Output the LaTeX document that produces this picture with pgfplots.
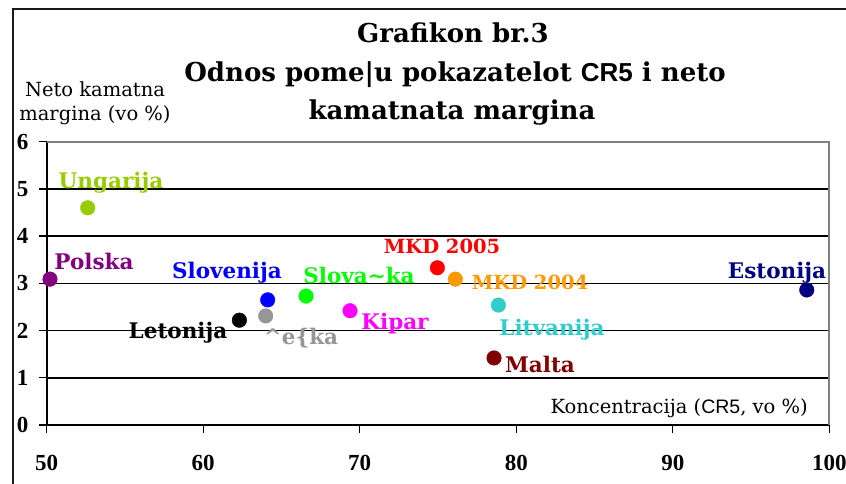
\documentclass[border=0pt]{standalone}
\usepackage{pgfplots}
\pgfplotsset{compat=1.18}
\usepackage{fontspec}
\setmainfont{DejaVu Serif}
\newfontfamily\tickfont{Liberation Serif}
\newfontfamily\sansf{Liberation Sans}
\definecolor{cUng}{HTML}{99CC00}
\definecolor{cPol}{HTML}{800080}
\definecolor{cSlo}{HTML}{0000FF}
\definecolor{cSlk}{HTML}{00FF00}
\definecolor{cLet}{HTML}{000000}
\definecolor{cCes}{HTML}{969696}
\definecolor{cKip}{HTML}{FF00FF}
\definecolor{cMK5}{HTML}{FF0000}
\definecolor{cMK4}{HTML}{FF9900}
\definecolor{cLit}{HTML}{33CCCC}
\definecolor{cMal}{HTML}{800000}
\definecolor{cEst}{HTML}{000080}
\begin{document}
\begin{tikzpicture}[x=1pt,y=1pt]
\useasboundingbox (0,0) rectangle (846,483);
\draw[line width=2pt,black!90] (13,-20) -- (13,474) -- (880,474);
\begin{axis}[
  at={(46.7pt,58pt)}, anchor=south west,
  width=782.6pt, height=283.3pt, scale only axis,
  xmin=50, xmax=100, ymin=0, ymax=6,
  xtick={50,60,...,100}, ytick={0,1,...,6},
  axis lines=left, axis line style={-, line width=1.8pt, black},
  tick align=outside, major tick length=8pt,
  tick style={black, line width=1.4pt},
  ymajorgrids, grid style={black, line width=1.6pt},
  clip=false,
  /pgf/number format/assume math mode=true,
  xticklabel style={font=\tickfont\bfseries\fontsize{23}{23}\selectfont, anchor=center, yshift=-30pt},
  yticklabel style={font=\tickfont\bfseries\fontsize{23}{23}\selectfont, anchor=center, xshift=-16pt},
  every axis plot/.append style={only marks, mark=*, mark size=7.3pt},
]
\draw[color=black!50, line width=1.8pt] (axis cs:50,6) -- (axis cs:100,6) -- (axis cs:100,0);
\addplot[cPol, mark options={fill=cPol, draw=cPol}] coordinates {(50.21,3.09)};
\addplot[cUng, mark options={fill=cUng, draw=cUng}] coordinates {(52.62,4.60)};
\addplot[cSlo, mark options={fill=cSlo, draw=cSlo}] coordinates {(64.12,2.65)};
\addplot[cLet, mark options={fill=cLet, draw=cLet}] coordinates {(62.31,2.22)};
\addplot[cCes, mark options={fill=cCes, draw=cCes}] coordinates {(63.99,2.31)};
\addplot[cSlk, mark options={fill=cSlk, draw=cSlk}] coordinates {(66.57,2.73)};
\addplot[cKip, mark options={fill=cKip, draw=cKip}] coordinates {(69.38,2.42)};
\addplot[cMK5, mark options={fill=cMK5, draw=cMK5}] coordinates {(74.96,3.33)};
\addplot[cMK4, mark options={fill=cMK4, draw=cMK4}] coordinates {(76.11,3.09)};
\addplot[cLit, mark options={fill=cLit, draw=cLit}] coordinates {(78.86,2.54)};
\addplot[cMal, mark options={fill=cMal, draw=cMal}] coordinates {(78.58,1.42)};
\addplot[cEst, mark options={fill=cEst, draw=cEst}] coordinates {(98.56,2.86)};
\end{axis}
% title
\begin{scope}[every node/.style={inner sep=0pt, font=\bfseries\fontsize{26}{26}\selectfont}]
\node[anchor=base] at (453,440) {Grafikon br.3};
\node[anchor=base] at (455,401) {Odnos pome\textbar u pokazatelot {\sansf CR5} i neto};
\node[anchor=base] at (452,363) {kamatnata margina};
\end{scope}
% axis titles
\begin{scope}[every node/.style={inner sep=0pt, font=\fontsize{19.5}{19.5}\selectfont}]
\node[anchor=base] at (95,386) {Neto kamatna};
\node[anchor=base] at (95,362) {margina (vo \%)};
\node[anchor=base east] at (808,70) {Koncentracija ({\sansf CR5}, vo \%)};
\end{scope}
% point labels
\begin{scope}[every node/.style={inner sep=0pt, anchor=base, font=\bfseries\fontsize{21.5}{21.5}\selectfont}]
\node[text=cUng] at (111,295) {Ungarija};
\node[text=cPol] at (94,214) {Polska};
\node[text=cSlo] at (227,205) {Slovenija};
\node[text=cSlk] at (359,200) {Slova\textasciitilde ka};
\node[text=cLet] at (178,145) {Letonija};
\node[text=cCes] at (301,139) {\textasciicircum e\{ka};
\node[text=cKip] at (395,154) {Kipar};
\node[text=cMK5, font=\bfseries\fontsize{19.5}{19.5}\selectfont] at (442,230) {MKD 2005};
\node[text=cMK4, font=\bfseries\fontsize{19.5}{19.5}\selectfont] at (530,194) {MKD 2004};
\node[text=cEst] at (777,205) {Estonija};
\node[text=cLit] at (552,148) {Litvanija};
\node[text=cMal] at (540,111) {Malta};
\end{scope}
\end{tikzpicture}
\end{document}
